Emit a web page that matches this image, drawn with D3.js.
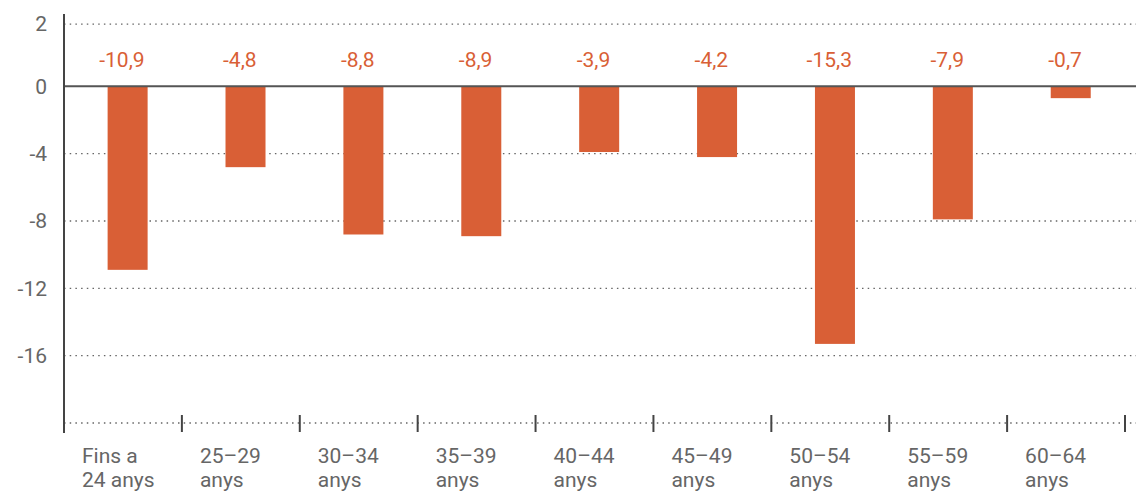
<!DOCTYPE html>
<html>
<head>
<meta charset="utf-8">
<script src="https://cdn.jsdelivr.net/npm/d3@7"></script>
<style>
  body { margin: 0; background: #fff; }
  svg { display: block; font-family: Roboto, "Noto Sans", sans-serif; }
</style>
</head>
<body>
<div class="chart"></div>
<script>
const categories = ["Fins a\n24 anys", "25–29\nanys", "30–34\nanys", "35–39\nanys", "40–44\nanys",
                    "45–49\nanys", "50–54\nanys", "55–59\nanys", "60–64\nanys"];
const values = [-10.9, -4.8, -8.8, -8.9, -3.9, -4.2, -15.3, -7.9, -0.7];
const yTickValues = [3.7, 0, -4, -8, -12, -16, -20];
const yTickLabels = ["2", "0", "-4", "-8", "-12", "-16", ""];

const outWidth = 1136, outHeight = 493;
const orange = "#d95f36";

const svg = d3.select(".chart").append("svg")
    .attr("width", outWidth)
    .attr("height", outHeight);

const xScale = d3.scaleBand()
    .domain(categories)
    .range([64, 1125]);

const yScale = d3.scaleLinear()
    .domain([-20, 4.3])
    .range([423, 14]);

// dotted gridlines
svg.append("g")
  .selectAll("line")
  .data(yTickValues.filter(d => d !== 0))
  .join("line")
    .attr("x1", 64)
    .attr("x2", outWidth)
    .attr("y1", d => yScale(d))
    .attr("y2", d => yScale(d))
    .attr("stroke", "#666")
    .attr("stroke-width", 1.3)
    .attr("stroke-dasharray", "1.5,4.2");

// y axis labels
const yAxis = d3.axisLeft(yScale)
    .tickValues(yTickValues)
    .tickSize(0)
    .tickPadding(17)
    .tickFormat((d, i) => yTickLabels[i]);

svg.append("g")
    .attr("class", "axis y-axis")
    .attr("transform", "translate(64,0)")
    .call(yAxis)
    .call(g => g.select(".domain").remove())
    .call(g => g.selectAll("text")
        .attr("font-size", 21)
        .attr("font-family", "Roboto, 'Noto Sans', sans-serif")
        .attr("fill", "#666"));

// bars
const bandW = xScale.bandwidth();
svg.append("g")
  .selectAll("rect")
  .data(values)
  .join("rect")
    .attr("x", (d, i) => xScale(categories[i]) + bandW * 0.37)
    .attr("y", yScale(0))
    .attr("width", 40)
    .attr("height", d => yScale(d) - yScale(0))
    .attr("fill", orange);

// zero line
svg.append("line")
    .attr("x1", 64)
    .attr("x2", outWidth)
    .attr("y1", yScale(0))
    .attr("y2", yScale(0))
    .attr("stroke", "#555")
    .attr("stroke-width", 2);

// y axis line
svg.append("line")
    .attr("x1", 64)
    .attr("x2", 64)
    .attr("y1", 14)
    .attr("y2", 433)
    .attr("stroke", "#444")
    .attr("stroke-width", 2);

// x ticks at band boundaries
svg.append("g")
  .selectAll("line")
  .data(categories)
  .join("line")
    .attr("x1", d => xScale(d) + bandW)
    .attr("x2", d => xScale(d) + bandW)
    .attr("y1", 415)
    .attr("y2", 432)
    .attr("stroke", "#444")
    .attr("stroke-width", 2);

// value labels
svg.append("g")
  .selectAll("text")
  .data(values)
  .join("text")
    .attr("x", (d, i) => xScale(categories[i]) + bandW / 2 - 1)
    .attr("y", yScale(0) - 19)
    .attr("text-anchor", "middle")
    .attr("font-size", 21)
    .attr("fill", orange)
    .text(d => d3.format(".1f")(d).replace("−", "-").replace(".", ","));

// category labels
const catLabels = svg.append("g")
  .selectAll("text")
  .data(categories)
  .join("text")
    .attr("x", d => xScale(d) + 18)
    .attr("y", 463)
    .attr("font-size", 21)
    .attr("fill", "#666");

catLabels.selectAll("tspan")
  .data(d => d.split("\n"))
  .join("tspan")
    .attr("x", function() { return this.parentNode.getAttribute("x"); })
    .attr("dy", (d, i) => i === 0 ? 0 : 24)
    .text(d => d);
</script>
</body>
</html>
